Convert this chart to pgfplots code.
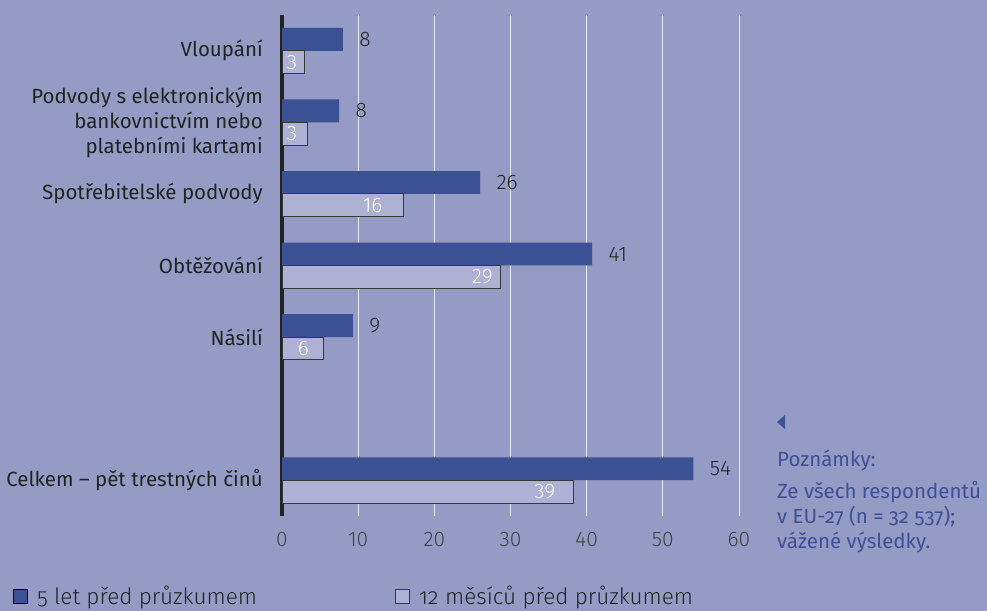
\documentclass[border=0pt]{standalone}
\usepackage{pgfplots}
\pgfplotsset{compat=1.18}
\usepackage{fontspec}
\setmainfont{Fira Sans}
\newfontfamily\lightfont{Fira Sans Light}
\newfontfamily\notefont{Fira Sans}[Numbers=OldStyle]
\newfontfamily\legfont{Fira Sans Light}[Numbers=OldStyle]

\definecolor{bg}{RGB}{148,155,196}
\definecolor{darkbar}{RGB}{60,81,147}
\definecolor{lightbar}{RGB}{174,176,212}
\definecolor{notecol}{RGB}{62,81,150}
\definecolor{txt}{RGB}{34,34,34}

\begin{document}
\begin{tikzpicture}[x=1bp,y=1bp]
\fill[bg] (0,0) rectangle (987,611);
\useasboundingbox (0,0) rectangle (987,611);
\begin{axis}[
  at={(282bp,95bp)}, anchor=south west,
  width=457bp, height=501bp, scale only axis,
  xmin=0, xmax=60, ymin=-0.5, ymax=6.5,
  axis lines*=left,
  x axis line style={draw=none},
  y axis line style={line width=4bp, color=txt},
  xtick={0,10,...,60}, xticklabels={0,10,20,30,40,50,60},
  ytick={0,2,3,4,5,6},
  yticklabels={Celkem – pět trestných činů, Násilí, Obtěžování,
    Spotřebitelské podvody,
    {Podvody s elektronickým\\bankovnictvím nebo\\platebními kartami},
    Vloupání},
  major tick length=0pt,
  xmajorgrids, grid style={white!80!bg, line width=1bp},
  xticklabel style={font=\lightfont\fontsize{21bp}{24bp}\selectfont,
    text=txt!85, anchor=center, yshift=-24bp},
  yticklabel style={font=\fontsize{20.5bp}{25bp}\selectfont, text=txt,
    align=right, anchor=east, inner sep=0pt, xshift=-19bp},
  bar width=0.32,
  legend columns=2,
  legend image code/.code={\draw[#1, line width=0.8bp] (0bp,-7bp) rectangle (14bp,7bp);},
  legend style={at={(-0.5886,-0.1597)}, anchor=west, draw=none, fill=none,
    inner sep=0pt, font=\legfont\fontsize{22.5bp}{25bp}\selectfont, text=txt,
    /tikz/every odd column/.append style={column sep=7bp},
    /tikz/every even column/.append style={column sep=136bp}},
]
% 5 let pred pruzkumem
\addplot[xbar, bar shift=0pt, fill=darkbar, draw=none,
  nodes near coords, point meta=explicit symbolic,
  nodes near coords style={anchor=west, xshift=13bp, text=txt,
    font=\lightfont\fontsize{21bp}{24bp}\selectfont}]
  table[meta=lab] {
x    y    lab
8.0  6.16 8
7.5  5.16 8
26.0 4.16 26
40.7 3.16 41
9.3  2.16 9
54.0 0.16 54
};
\addlegendentry{5 let před průzkumem}
% 12 mesicu pred pruzkumem
\addplot[xbar, bar shift=0pt, fill=lightbar, draw=txt!90, line width=1bp]
  table {
x    y
2.9  5.84
3.3  4.84
15.9 3.84
28.7 2.84
5.4  1.84
38.3 -0.16
};
\addlegendentry{12 měsíců před průzkumem}
% values inside the light bars
\addplot[only marks, mark=*, mark size=0bp, mark options={draw=none, fill=none},
  forget plot, nodes near coords, point meta=explicit symbolic,
  nodes near coords style={anchor=center, text=white,
    font=\lightfont\fontsize{21bp}{24bp}\selectfont}]
  table[meta=lab] {
x    y     lab
1.3  5.84  3
1.3  4.84  3
11.9 3.84  16
26.3 2.84  29
2.8  1.84  6
34.5 -0.16 39
};
\end{axis}
\fill[notecol] (785,196) -- (777,189) -- (785,182) -- cycle;
\begin{scope}[every node/.style={anchor=base west, inner sep=0pt, text=notecol,
    font=\notefont\fontsize{20.5bp}{25bp}\selectfont}]
\node at (777,144) {Poznámky:};
\node at (777,112) {Ze všech respondentů};
\node at (777,87) {v EU-27 (n = 32 537);};
\node at (777,62) {vážené výsledky.};
\end{scope}
\end{tikzpicture}
\end{document}
